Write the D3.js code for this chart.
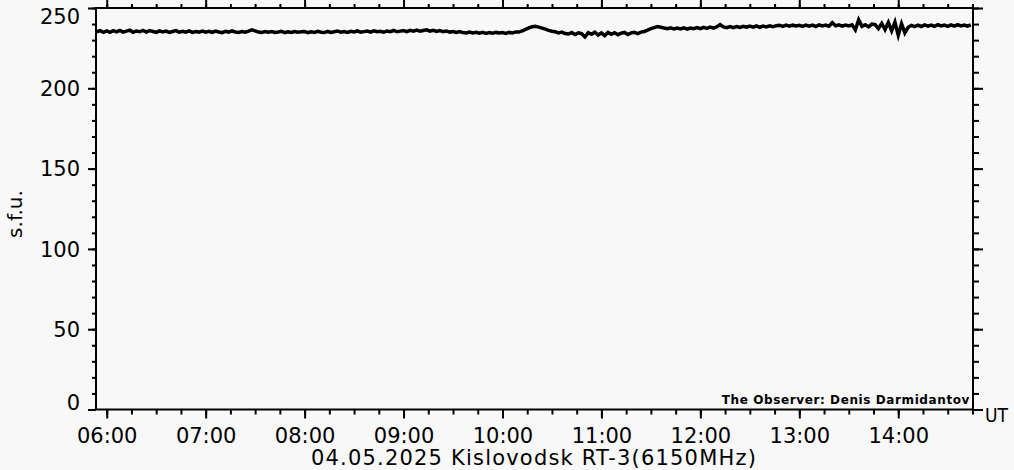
<!DOCTYPE html>
<html>
<head>
<meta charset="utf-8">
<script src="https://cdn.jsdelivr.net/npm/d3@7"></script>
<style>
  html, body { margin: 0; padding: 0; background: #f8f8f8; }
  svg { display: block; }
  text { font-family: "DejaVu Sans", sans-serif; fill: #000; }
</style>
</head>
<body>
<svg id="chart" width="1014" height="470"></svg>
<script>
// ---------------- data ----------------
const chartTitle = "04.05.2025 Kislovodsk RT-3(6150MHz)";
const yLabel = "s.f.u.";
const xUnit = "UT";
const observer = "The Observer: Denis Darmidantov";

const timeDomain = [Date.UTC(2025, 4, 4, 5, 53, 30), Date.UTC(2025, 4, 4, 14, 45, 20)];
const yDomain = [0, 250];
const yMajorTicks = [0, 50, 100, 150, 200, 250];
const yMinorStep = 10;

// flux samples every 2 minutes, starting 05:54 UT
const sampleStart = Date.UTC(2025, 4, 4, 5, 54);
const sampleStepMin = 2;
const fluxSfu = [
  // 05:54-05:58
  235.2, 235.9, 234.9,
  // 06:00-06:58
  235.8, 234.9, 235.9, 235.1, 236.0, 235.0, 235.6, 236.2, 234.9, 235.7,
  235.2, 236.0, 235.0, 235.9, 235.4, 234.8, 235.8, 235.1, 235.6, 234.8,
  235.4, 235.9, 234.9, 235.5, 235.0, 235.7, 234.8, 235.4, 235.0, 235.6,
  // 07:00-07:58
  235.0, 235.5, 234.8, 235.6, 235.1, 234.7, 235.5, 234.9, 235.7, 235.1,
  234.8, 235.3, 234.9, 235.6, 236.4, 235.8, 235.0, 234.8, 235.4, 234.9,
  235.3, 234.8, 235.1, 235.5, 234.7, 235.2, 234.8, 235.3, 234.9, 235.2,
  // 08:00-08:58
  235.3, 234.7, 235.2, 234.8, 235.5, 234.9, 234.7, 235.4, 234.8, 235.2,
  235.6, 234.9, 235.3, 234.8, 235.5, 235.1, 235.7, 234.9, 235.3, 235.6,
  235.0, 235.8, 235.2, 235.5, 234.9, 235.7, 235.3, 236.0, 235.2, 235.6,
  // 09:00-09:58
  235.9, 235.3, 236.1, 235.6, 236.2, 235.5, 236.0, 236.4, 235.6, 236.1,
  235.4, 235.9, 235.2, 235.7, 235.0, 235.4, 234.8, 235.3, 234.7, 234.5,
  235.0, 234.4, 234.9, 234.3, 234.8, 234.2, 234.7, 234.3, 234.8, 234.4,
  // 10:00-10:58
  234.7, 234.2, 234.8, 234.4, 235.1, 235.0, 235.8, 236.7, 237.6, 238.3,
  238.6, 238.1, 237.5, 236.8, 236.1, 235.5, 235.2, 234.5, 235.0, 234.1,
  233.8, 234.7, 233.5, 234.5, 234.0, 232.0, 234.6, 233.6, 234.9, 233.2,
  // 11:00-11:58
  234.5, 232.8, 234.8, 233.6, 234.6, 233.4, 234.4, 234.8, 233.5, 234.5,
  234.9, 234.1, 235.0, 235.4, 236.2, 237.1, 237.8, 238.4, 238.0, 237.5,
  237.1, 237.6, 236.9, 237.5, 237.0, 237.7, 236.9, 237.5, 237.1, 237.8,
  // 12:00-12:58
  237.2, 238.0, 237.3, 238.1, 237.5, 238.3, 239.6, 238.2, 237.7, 238.4,
  237.8, 238.5, 237.9, 238.6, 238.0, 238.7, 238.1, 238.8, 238.0, 238.7,
  238.2, 238.9, 238.3, 239.0, 239.3, 238.6, 239.4, 238.7, 239.3, 238.8,
  // 13:00-13:58
  239.2, 238.6, 239.4, 238.7, 239.3, 238.5, 239.5, 238.8, 239.4, 238.6,
  240.8, 238.9, 239.5, 238.7, 239.4, 238.8, 239.5, 236.4, 242.6, 238.6,
  239.6, 238.3, 240.0, 239.6, 237.2, 240.4, 236.6, 241.0, 235.8, 241.2,
  // 14:00-14:44
  233.0, 240.2, 234.5, 238.0, 239.2, 238.4, 239.3, 238.5, 239.5, 238.7,
  239.4, 238.6, 239.6, 238.8, 239.4, 238.6, 239.5, 238.7, 239.6, 238.8,
  239.4, 238.7, 239.5
];

// ---------------- layout ----------------
const plot = { left: 96, right: 973, top: 8, bottom: 409.5 };
const svg = d3.select("#chart");

svg.append("rect").attr("width", 1014).attr("height", 470).attr("fill", "#f8f8f8");

const x = d3.scaleUtc().domain(timeDomain).range([plot.left, plot.right]);
const y = d3.scaleLinear().domain(yDomain).range([plot.bottom, plot.top]);

const yMinor = d3.range(yDomain[0], yDomain[1] + 0.001, yMinorStep);
const fmt = d3.utcFormat("%H:%M");

function styleAxis(g) {
  g.select(".domain").remove();
  g.selectAll(".tick line").attr("stroke", "#000").attr("stroke-width", 2);
}

// left axis
svg.append("g").attr("transform", `translate(${plot.left},0)`)
  .call(d3.axisLeft(y).tickValues(yMinor).tickSize(4).tickFormat(""))
  .call(styleAxis);
const yl = svg.append("g").attr("transform", `translate(${plot.left},0)`)
  .call(d3.axisLeft(y).tickValues(yMajorTicks).tickSize(8).tickPadding(8).tickFormat(d3.format("d")))
  .call(styleAxis);
yl.selectAll(".tick text")
  .attr("font-family", "DejaVu Sans").attr("font-size", 21).attr("fill", "#000")
  .attr("dy", d => d === 250 ? "0.72em" : (d === 0 ? "0em" : "0.34em"));

// right axis
svg.append("g").attr("transform", `translate(${plot.right},0)`)
  .call(d3.axisRight(y).tickValues(yMinor).tickSize(6).tickFormat(""))
  .call(styleAxis);
svg.append("g").attr("transform", `translate(${plot.right},0)`)
  .call(d3.axisRight(y).tickValues(yMajorTicks).tickSize(10).tickFormat(""))
  .call(styleAxis);

// bottom axis
svg.append("g").attr("transform", `translate(0,${plot.bottom})`)
  .call(d3.axisBottom(x).ticks(d3.utcMinute.every(15)).tickSize(5).tickFormat(""))
  .call(styleAxis);
const xb = svg.append("g").attr("transform", `translate(0,${plot.bottom})`)
  .call(d3.axisBottom(x).ticks(d3.utcHour.every(1)).tickSize(9).tickPadding(10).tickFormat(fmt))
  .call(styleAxis);
xb.selectAll(".tick text")
  .attr("font-family", "DejaVu Sans").attr("font-size", 21).attr("fill", "#000");

// top axis
svg.append("g").attr("transform", `translate(0,${plot.top})`)
  .call(d3.axisTop(x).ticks(d3.utcMinute.every(15)).tickSize(4).tickFormat(""))
  .call(styleAxis);
svg.append("g").attr("transform", `translate(0,${plot.top})`)
  .call(d3.axisTop(x).ticks(d3.utcHour.every(1)).tickSize(9).tickFormat(""))
  .call(styleAxis);

// frame
svg.append("rect")
  .attr("x", plot.left).attr("y", plot.top)
  .attr("width", plot.right - plot.left).attr("height", plot.bottom - plot.top)
  .attr("fill", "none").attr("stroke", "#000").attr("stroke-width", 2);

// data line
const series = fluxSfu.map((v, i) => ({ t: sampleStart + i * sampleStepMin * 60000, v }));
svg.append("path")
  .datum(series)
  .attr("fill", "none")
  .attr("stroke", "#000")
  .attr("stroke-width", 3.5)
  .attr("stroke-linejoin", "miter")
  .attr("d", d3.line().x(d => x(d.t)).y(d => y(d.v)));

// texts
svg.append("text")
  .attr("x", 534).attr("y", 465)
  .attr("text-anchor", "middle").attr("font-size", 21)
  .attr("letter-spacing", 1.2)
  .text(chartTitle);

svg.append("text")
  .attr("x", 985).attr("y", 422)
  .attr("font-size", 20)
  .attr("textLength", 23).attr("lengthAdjust", "spacingAndGlyphs")
  .text(xUnit);

svg.append("text")
  .attr("transform", "translate(22,214) rotate(-90)")
  .attr("text-anchor", "middle").attr("font-size", 20)
  .text(yLabel);

svg.append("text")
  .attr("x", 970).attr("y", 404)
  .attr("text-anchor", "end").attr("font-size", 12).attr("font-weight", "bold")
  .attr("letter-spacing", 0.6)
  .text(observer);
</script>
</body>
</html>
